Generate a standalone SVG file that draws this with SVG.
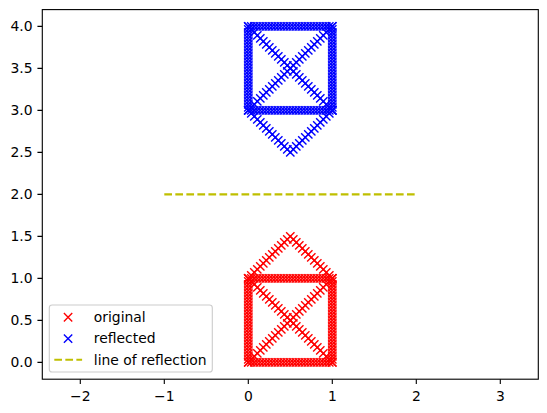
<svg xmlns="http://www.w3.org/2000/svg" xmlns:xlink="http://www.w3.org/1999/xlink" width="547" height="413" viewBox="0 0 547 413">
<style>
text{font-family:"DejaVu Sans","Liberation Sans",sans-serif;font-size:13.9px;fill:#000}
.tick{stroke:#000;stroke-width:1.11}
.xl{text-anchor:middle}
.yl{text-anchor:end}
.mred{marker-start:url(#mr);marker-mid:url(#mr);marker-end:url(#mr)}
.mblue{marker-start:url(#mb);marker-mid:url(#mb);marker-end:url(#mb)}
.xr{stroke:#ff0000;stroke-width:1.39;fill:none}
.xb{stroke:#0000ff;stroke-width:1.39;fill:none}
.refl{stroke:#bfbf00;stroke-width:2.08;stroke-dasharray:7.7 3.33;fill:none}
</style>
<defs>
<marker id="mr" markerUnits="userSpaceOnUse" markerWidth="10" markerHeight="10" refX="0" refY="0" overflow="visible"><path class="xr" d="M-4.17-4.17L4.17 4.17M-4.17 4.17L4.17-4.17"/></marker>
<marker id="mb" markerUnits="userSpaceOnUse" markerWidth="10" markerHeight="10" refX="0" refY="0" overflow="visible"><path class="xb" d="M-4.17-4.17L4.17 4.17M-4.17 4.17L4.17-4.17"/></marker>
<path id="house" fill="none" stroke="none" d="M248.3 362.4
h3h3h3h3h3h3h3h3h3h3h3h3h3h3h3h3h3h3h3h3h3h3h3h3h3h3h3h3
v-3v-3v-3v-3v-3v-3v-3v-3v-3v-3v-3v-3v-3v-3v-3v-3v-3v-3v-3v-3v-3v-3v-3v-3v-3v-3v-3v-3
h-3h-3h-3h-3h-3h-3h-3h-3h-3h-3h-3h-3h-3h-3h-3h-3h-3h-3h-3h-3h-3h-3h-3h-3h-3h-3h-3h-3
v3v3v3v3v3v3v3v3v3v3v3v3v3v3v3v3v3v3v3v3v3v3v3v3v3v3v3v3
l3-3l3-3l3-3l3-3l3-3l3-3l3-3l3-3l3-3l3-3l3-3l3-3l3-3l3-3l3-3l3-3l3-3l3-3l3-3l3-3l3-3l3-3l3-3l3-3l3-3l3-3l3-3l3-3
M248.3 278.4
l3 3l3 3l3 3l3 3l3 3l3 3l3 3l3 3l3 3l3 3l3 3l3 3l3 3l3 3l3 3l3 3l3 3l3 3l3 3l3 3l3 3l3 3l3 3l3 3l3 3l3 3l3 3l3 3
M248.3 278.4
l3-3l3-3l3-3l3-3l3-3l3-3l3-3l3-3l3-3l3-3l3-3l3-3l3-3l3-3
l3 3l3 3l3 3l3 3l3 3l3 3l3 3l3 3l3 3l3 3l3 3l3 3l3 3l3 3"/>
</defs>
<rect width="547" height="413" fill="#fff"/>
<g id="original"><use xlink:href="#house" href="#house" class="mred"/></g>
<g id="reflected"><use xlink:href="#house" href="#house" class="mblue" transform="matrix(1 0 0 -1 0 388.8)"/></g>
<g id="connectors"><path id="line-of-reflection" class="refl" d="M164.3 194.4H416.3"/></g>
<g id="axes">
<rect x="42.3" y="9.6" width="496" height="369.6" fill="none" stroke="#000" stroke-width="1.11"/>
<path class="tick" d="M80.3 379.2v4.86M164.3 379.2v4.86M248.3 379.2v4.86M332.3 379.2v4.86M416.3 379.2v4.86M500.3 379.2v4.86"/>
<text class="xl" x="80.3" y="400.5">−2</text>
<text class="xl" x="164.3" y="400.5">−1</text>
<text class="xl" x="248.3" y="400.5">0</text>
<text class="xl" x="332.3" y="400.5">1</text>
<text class="xl" x="416.3" y="400.5">2</text>
<text class="xl" x="500.3" y="400.5">3</text>
<path class="tick" d="M42.3 362.4h-4.86M42.3 320.4h-4.86M42.3 278.4h-4.86M42.3 236.4h-4.86M42.3 194.4h-4.86M42.3 152.4h-4.86M42.3 110.4h-4.86M42.3 68.4h-4.86M42.3 26.4h-4.86"/>
<text class="yl" x="32.5" y="367.4">0.0</text>
<text class="yl" x="32.5" y="325.4">0.5</text>
<text class="yl" x="32.5" y="283.4">1.0</text>
<text class="yl" x="32.5" y="241.4">1.5</text>
<text class="yl" x="32.5" y="199.4">2.0</text>
<text class="yl" x="32.5" y="157.4">2.5</text>
<text class="yl" x="32.5" y="115.4">3.0</text>
<text class="yl" x="32.5" y="73.4">3.5</text>
<text class="yl" x="32.5" y="31.4">4.0</text>
</g>
<g id="legend">
<rect x="49.3" y="305" width="163" height="67" rx="2.8" fill="#fff" fill-opacity="0.8" stroke="#cccccc" stroke-width="1.11"/>
<path class="xr" d="M63.9 313.1l8.34 8.34M63.9 321.44l8.34-8.34"/>
<text x="93.8" y="322">original</text>
<path class="xb" d="M63.9 334.5l8.34 8.34M63.9 342.84l8.34-8.34"/>
<text x="93.8" y="343.4">reflected</text>
<path class="refl" d="M54.3 359.7H82.1"/>
<text x="93.8" y="364.6">line of reflection</text>
</g>
</svg>
